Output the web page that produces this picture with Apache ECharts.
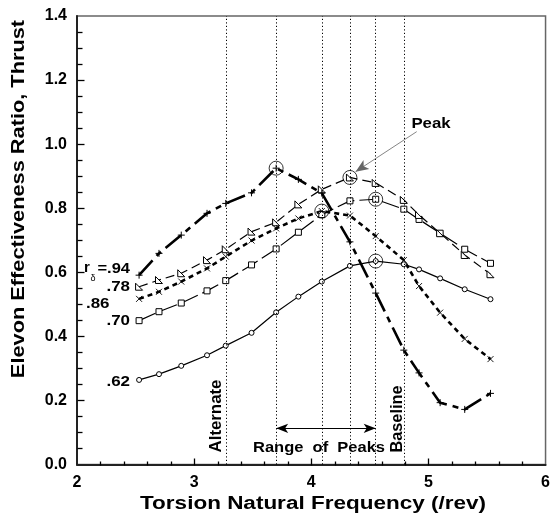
<!DOCTYPE html>
<html><head><meta charset="utf-8">
<script src="https://cdn.jsdelivr.net/npm/echarts@6/dist/echarts.min.js"></script>
<style>html,body{margin:0;padding:0;background:#fff}#c{width:553px;height:520px}</style>
</head><body><div id="c"></div>
<script>
// Data
var freq = [2.53, 2.70, 2.89, 3.11, 3.27, 3.49, 3.70, 3.89, 4.09, 4.33, 4.55, 4.79, 4.92, 5.10, 5.31, 5.53];
var r62 = [0.264, 0.282, 0.308, 0.341, 0.371, 0.411, 0.475, 0.524, 0.571, 0.620, 0.635, 0.625, 0.609, 0.581, 0.547, 0.516];
var r70 = [0.449, 0.477, 0.504, 0.542, 0.574, 0.623, 0.673, 0.725, 0.780, 0.823, 0.828, 0.797, 0.765, 0.722, 0.672, 0.628];
var r78 = [0.555, 0.576, 0.597, 0.638, 0.672, 0.727, 0.756, 0.812, 0.859, 0.896, 0.879, 0.826, 0.779, 0.722, 0.654, 0.594];
var r86 = [0.517, 0.539, 0.571, 0.612, 0.649, 0.699, 0.737, 0.768, 0.791, 0.777, 0.713, 0.638, 0.557, 0.474, 0.392, 0.329];
var r94 = [0.591, 0.659, 0.716, 0.784, 0.815, 0.848, 0.925, 0.890, 0.847, 0.695, 0.535, 0.357, 0.286, 0.193, 0.172, 0.222];
var peaks = [[3.70, 0.925], [4.33, 0.896], [4.09, 0.791], [4.55, 0.828], [4.55, 0.635]];
var refLines = [3.27, 3.70, 4.09, 4.33, 4.55, 4.79];
var rangeArrow = [[3.70, 0.113], [4.55, 0.113]];
var peakArrow = [[4.90, 1.039], [4.378, 0.914]];
var xTicks = {min: 2, max: 6, step: 1, minorPerMajor: 5};
var yTicks = {min: 0, max: 1.4, step: 0.2, minorPerMajor: 4};

var FONT = '"Liberation Sans", Arial, Helvetica, sans-serif';
function pts(v) { return freq.map(function (f, i) { return [f, v[i]]; }); }
function mk(name, vals, symbol, size, dash, width, extra) {
  var s = {
    type: 'line', name: name, data: pts(vals), symbol: symbol, symbolSize: size,
    showSymbol: true, symbolKeepAspect: true,
    lineStyle: {color: '#000', width: width, type: dash},
    itemStyle: {color: '#fff', borderColor: '#000', borderWidth: 1},
    emphasis: {disabled: true}, z: 3
  };
  if (extra) for (var k in extra) s[k] = extra[k];
  return s;
}

var chart = echarts.init(document.getElementById('c'));

var markLineData = refLines.map(function (x) {
  return {xAxis: x, lineStyle: {type: [1.2, 2.3], color: '#000', width: 1}};
});
markLineData.push([
  {coord: rangeArrow[0], symbol: 'arrow', symbolSize: [7, 12]},
  {coord: rangeArrow[1], symbol: 'arrow', symbolSize: [7, 12], lineStyle: {type: 'solid', color: '#000', width: 1.2}}
]);
markLineData.push([
  {coord: peakArrow[0], symbol: 'none'},
  {coord: peakArrow[1], symbol: 'arrow', symbolSize: [8, 13], lineStyle: {type: 'solid', color: '#666', width: 0.8}}
]);

// tick positions along the bottom (orient 0) and left (orient 1) axes: [value on axis, orient, pixel length]
var tickItems = [];
var nx = Math.round((xTicks.max - xTicks.min) / xTicks.step * xTicks.minorPerMajor);
for (var i = 1; i < nx; i++) {
  tickItems.push([xTicks.min + i * xTicks.step / xTicks.minorPerMajor, 0, i % xTicks.minorPerMajor === 0 ? 7 : 4]);
}
var ny = Math.round((yTicks.max - yTicks.min) / yTicks.step * yTicks.minorPerMajor);
for (var j = 1; j < ny; j++) {
  tickItems.push([yTicks.min + j * yTicks.step / yTicks.minorPerMajor, 1, j % yTicks.minorPerMajor === 0 ? 7 : 5]);
}

function renderTick(params, api) {
  var v = api.value(0), orient = api.value(1), len = api.value(2);
  var p = orient === 0 ? api.coord([v, yTicks.min]) : api.coord([xTicks.min, v]);
  var x1 = Math.round(p[0]) + 0.5, y1 = Math.round(p[1]) + 0.5;
  return {
    type: 'line',
    shape: orient === 0 ? {x1: x1, y1: y1, x2: x1, y2: y1 - len} : {x1: x1, y1: y1, x2: x1 + len, y2: y1},
    style: {stroke: '#000', lineWidth: 1.3}
  };
}

var tl = {fontFamily: FONT, fontWeight: 'bold', fontSize: 16, color: '#000'};

var option = {
  animation: false,
  backgroundColor: '#fff',
  grid: {left: 77, right: 5, top: 16, bottom: 55.5,
    show: true, borderColor: '#666', borderWidth: 1.5, backgroundColor: 'rgba(0,0,0,0)'},
  xAxis: {
    type: 'value', min: xTicks.min, max: xTicks.max, interval: xTicks.step,
    axisLine: {show: true, lineStyle: {color: '#222', width: 2}},
    axisTick: {show: false}, minorTick: {show: false},
    splitLine: {show: false},
    axisLabel: Object.assign({margin: 10}, tl)
  },
  yAxis: {
    type: 'value', min: yTicks.min, max: yTicks.max, interval: yTicks.step,
    axisLine: {show: true, lineStyle: {color: '#222', width: 2}},
    axisTick: {show: false}, minorTick: {show: false},
    splitLine: {show: false},
    axisLabel: Object.assign({margin: 10, formatter: function (v) { return v.toFixed(1); }}, tl)
  },
  series: [
    mk('.62', r62, 'circle', 5, 'solid', 1.2, {
      markLine: {silent: true, symbol: ['none', 'none'], label: {show: false}, animation: false,
        emphasis: {disabled: true}, data: markLineData}
    }),
    mk('.70', r70, 'rect', 6, [18, 5], 1.2),
    mk('.78', r78, 'path://M0,0L0,10L10,10Z', 7, [9, 5], 1.2),
    mk('.86', r86, 'path://M0,0L10,10M0,10L10,0', 6, [5, 4], 2.6,
      {itemStyle: {color: 'rgba(0,0,0,0)', borderColor: '#000', borderWidth: 0.9}}),
    mk('.94', r94, 'path://M5,0L5,10M0,5L10,5', 7, [20, 6, 6, 6], 2.6,
      {itemStyle: {color: 'rgba(0,0,0,0)', borderColor: '#000', borderWidth: 1}}),
    {
      type: 'scatter', name: 'peaks', data: peaks, symbol: 'circle', symbolSize: 14,
      itemStyle: {color: 'rgba(0,0,0,0)', borderColor: '#000', borderWidth: 1},
      emphasis: {disabled: true}, z: 4
    },
    {
      type: 'custom', name: 'ticks', data: tickItems, renderItem: renderTick,
      encode: {x: -1, y: -1}, clip: false, silent: true, z: 10, emphasis: {disabled: true}
    }
  ],
  graphic: [
    {type: 'text', x: 313, y: 504, scaleX: 1.25, style: {text: 'Torsion Natural Frequency (/rev)', font: 'bold 18px ' + FONT, fill: '#000', textAlign: 'center', textVerticalAlign: 'middle'}},
    {type: 'text', x: 19, y: 199, rotation: Math.PI / 2, scaleX: 1.21, style: {text: 'Elevon Effectiveness Ratio, Thrust', font: 'bold 18px ' + FONT, fill: '#000', textAlign: 'center', textVerticalAlign: 'middle'}},
    {type: 'text', x: 84, y: 268, style: {text: 'r', font: 'bold 15px ' + FONT, fill: '#000', textAlign: 'left', textVerticalAlign: 'middle'}},
    {type: 'text', x: 90.5, y: 279, style: {text: 'δ', font: '9px ' + FONT, fill: '#000', textAlign: 'left', textVerticalAlign: 'middle'}},
    {type: 'text', x: 130, y: 268.5, scaleX: 1.1, style: {text: '=.94', font: 'bold 15px ' + FONT, fill: '#000', textAlign: 'right', textVerticalAlign: 'middle'}},
    {type: 'text', x: 130, y: 286.5, scaleX: 1.13, style: {text: '.78', font: 'bold 15px ' + FONT, fill: '#000', textAlign: 'right', textVerticalAlign: 'middle'}},
    {type: 'text', x: 109.5, y: 303.5, scaleX: 1.13, style: {text: '.86', font: 'bold 15px ' + FONT, fill: '#000', textAlign: 'right', textVerticalAlign: 'middle'}},
    {type: 'text', x: 130, y: 321, scaleX: 1.13, style: {text: '.70', font: 'bold 15px ' + FONT, fill: '#000', textAlign: 'right', textVerticalAlign: 'middle'}},
    {type: 'text', x: 130, y: 381.5, scaleX: 1.13, style: {text: '.62', font: 'bold 15px ' + FONT, fill: '#000', textAlign: 'right', textVerticalAlign: 'middle'}},
    {type: 'text', x: 431, y: 124, scaleX: 1.12, style: {text: 'Peak', font: 'bold 15px ' + FONT, fill: '#000', textAlign: 'center', textVerticalAlign: 'middle'}},
    {type: 'text', x: 319, y: 448, scaleX: 1.1, style: {text: 'Range  of  Peaks', font: 'bold 15px ' + FONT, fill: '#000', textAlign: 'center', textVerticalAlign: 'middle'}},
    {type: 'text', x: 216.5, y: 416, rotation: Math.PI / 2, scaleX: 1.05, style: {text: 'Alternate', font: 'bold 16px ' + FONT, fill: '#000', textAlign: 'center', textVerticalAlign: 'middle'}},
    {type: 'text', x: 397.5, y: 419, rotation: Math.PI / 2, scaleX: 1.02, style: {text: 'Baseline', font: 'bold 16px ' + FONT, fill: '#000', textAlign: 'center', textVerticalAlign: 'middle'}}
  ]
};
chart.setOption(option);
</script>
</body></html>
